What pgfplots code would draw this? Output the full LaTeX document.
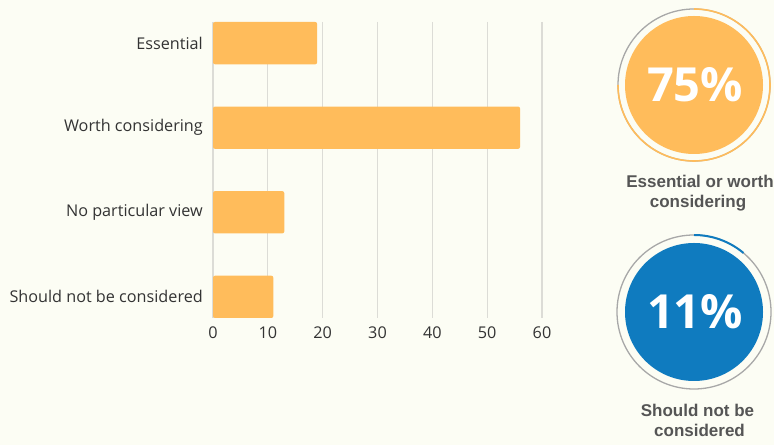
\documentclass[border=0pt]{standalone}
\usepackage{fontspec}
\setmainfont{Open Sans}
\newfontfamily\lab{Liberation Sans}
\usepackage{pgfplots}
\pgfplotsset{compat=1.18}
\definecolor{bg}{HTML}{FCFDF4}
\definecolor{barc}{HTML}{FFBC5B}
\definecolor{bluec}{HTML}{0F7BBF}
\definecolor{gridc}{HTML}{DCDCD6}
\definecolor{txt}{HTML}{333333}
\definecolor{labc}{HTML}{555555}
\definecolor{ringg}{HTML}{A8A8A8}
\begin{document}
\begin{tikzpicture}[x=1bp,y=1bp]
\fill[bg] (0,0) rectangle (774,445);
\useasboundingbox (0,0) rectangle (774,445);
\begin{axis}[at={(213bp,127bp)}, anchor=south west, scale only axis,
 width=329bp, height=296bp,
 xbar, bar width=0.5, xmin=0, xmax=60, ymin=-0.25, ymax=3.25, y dir=reverse,
 ytick={0,1,2,3},
 yticklabels={Essential,Worth considering,No particular view,Should not be considered},
 xtick={0,10,...,60}, xmajorgrids, grid style={gridc, line width=1.3bp},
 axis line style={draw=none}, major tick length=0pt, tick style={draw=none},
 tick label style={font=\fontsize{16.2bp}{19bp}\selectfont, text=txt},
 /pgf/number format/assume math mode=true,
 xticklabel style={anchor=north, inner sep=0pt, yshift=-9bp},
 yticklabel style={anchor=east, inner sep=0pt, xshift=-10bp},
 ]
\addplot[fill=barc, draw=none, rounded corners=2bp] coordinates {(19,0) (56,1) (13,2) (11,3)};
\end{axis}
% summary circle 1
\fill[barc] (694,360) circle (69);
\draw[ringg, line width=1.3] (694,360) circle (76);
\draw[barc, line width=1.6] (694,436) arc[start angle=90, end angle=-180, radius=76];
\node[white, font=\bfseries\fontsize{47bp}{50bp}\selectfont] at (695,360) {75\%};
\node[labc, anchor=base, font=\lab\bfseries\fontsize{17bp}{21bp}\selectfont] at (700,257) {Essential or worth};
\node[labc, anchor=base, font=\lab\bfseries\fontsize{17bp}{21bp}\selectfont] at (698,237) {considering};
% summary circle 2
\fill[bluec] (694,133) circle (69);
\draw[ringg, line width=1.3] (694,133) circle (77);
\draw[bluec, line width=2] (694,210) arc[start angle=90, end angle=50, radius=77];
\node[white, font=\bfseries\fontsize{47bp}{50bp}\selectfont] at (695,133) {11\%};
\node[labc, anchor=base, font=\lab\bfseries\fontsize{17bp}{21bp}\selectfont] at (697.5,28) {Should not be};
\node[labc, anchor=base, font=\lab\bfseries\fontsize{17bp}{21bp}\selectfont] at (699.5,8) {considered};
\end{tikzpicture}
\end{document}
